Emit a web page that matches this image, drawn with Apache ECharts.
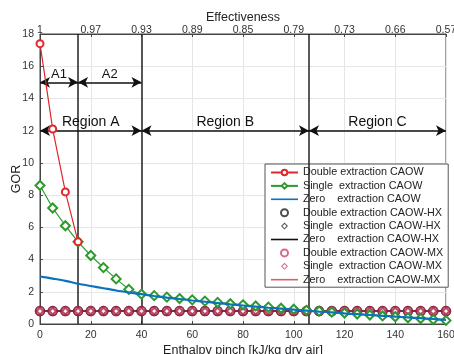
<!DOCTYPE html>
<html><head><meta charset="utf-8">
<script src="https://cdn.jsdelivr.net/npm/echarts@6/dist/echarts.min.js"></script>
<style>html,body{margin:0;padding:0;background:#fff}#c{width:454px;height:354px}</style>
</head><body><div id="c"></div>
<script>
// ---- data ----
const xPinch = [0,5,10,15,20,25,30,35,40,45,50,55,60,65,70,75,80,85,90,95,100,105,110,115,120,125,130,135,140,145,150,155,160];
const xDouble = [0,5,10,15];
const doubleCAOW = [17.4,12.1,8.2,5.1];
const singleCAOW = [8.6,7.2,6.1,5.1,4.25,3.5,2.8,2.15,1.85,1.76,1.67,1.58,1.5,1.42,1.34,1.26,1.19,1.12,1.05,0.98,0.92,0.85,0.8,0.74,0.68,0.62,0.56,0.5,0.45,0.39,0.34,0.28,0.22];
const zeroCAOW = [2.95,2.82,2.68,2.5,2.36,2.22,2.08,1.96,1.85,1.74,1.64,1.55,1.46,1.38,1.3,1.22,1.15,1.08,1.01,0.95,0.89,0.83,0.77,0.72,0.66,0.61,0.56,0.51,0.46,0.41,0.36,0.31,0.26];
const doubleHX = [0.8,0.8,0.8,0.8,0.8,0.8,0.8,0.8,0.8,0.8,0.8,0.8,0.8,0.8,0.8,0.8,0.8,0.8,0.8,0.8,0.8,0.8,0.8,0.8,0.8,0.8,0.8,0.8,0.8,0.8,0.8,0.8,0.8];
const singleHX = [0.8,0.8,0.8,0.8,0.8,0.8,0.8,0.8,0.8,0.8,0.8,0.8,0.8,0.8,0.8,0.8,0.8,0.8,0.8,0.8,0.8,0.8,0.8,0.8,0.8,0.8,0.8,0.8,0.8,0.8,0.8,0.8,0.8];
const zeroHX = [0.8,0.8,0.8,0.8,0.8,0.8,0.8,0.8,0.8,0.8,0.8,0.8,0.8,0.8,0.8,0.8,0.8,0.8,0.8,0.8,0.8,0.8,0.8,0.8,0.8,0.8,0.8,0.8,0.8,0.8,0.8,0.8,0.8];
const doubleMX = [0.8,0.8,0.8,0.8,0.8,0.8,0.8,0.8,0.8,0.8,0.8,0.8,0.8,0.8,0.8,0.8,0.8,0.8,0.8,0.8,0.8,0.8,0.8,0.8,0.8,0.8,0.8,0.8,0.8,0.8,0.8,0.8,0.8];
const singleMX = [0.8,0.8,0.8,0.8,0.8,0.8,0.8,0.8,0.8,0.8,0.8,0.8,0.8,0.8,0.8,0.8,0.8,0.8,0.8,0.8,0.8,0.8,0.8,0.8,0.8,0.8,0.8,0.8,0.8,0.8,0.8,0.8,0.8];
const zeroMX = [0.8,0.8,0.8,0.8,0.8,0.8,0.8,0.8,0.8,0.8,0.8,0.8,0.8,0.8,0.8,0.8,0.8,0.8,0.8,0.8,0.8,0.8,0.8,0.8,0.8,0.8,0.8,0.8,0.8,0.8,0.8,0.8,0.8];
const effTicks = [0,20,40,60,80,100,120,140,160];
const effLabels = ['1','0.97','0.93','0.89','0.85','0.79','0.73','0.66','0.57'];
const boundaries = [15,40,106];
const subRegions = [{name:'A1',from:0,to:15,y:15},{name:'A2',from:15,to:40,y:15}];
const regions = [{name:'Region A',from:0,to:40,y:12},{name:'Region B',from:40,to:106,y:12},{name:'Region C',from:106,to:160,y:12}];
const names = ['Double extraction CAOW','Single  extraction CAOW','Zero    extraction CAOW',
  'Double extraction CAOW-HX','Single  extraction CAOW-HX','Zero    extraction CAOW-HX',
  'Double extraction CAOW-MX','Single  extraction CAOW-MX','Zero    extraction CAOW-MX'];

const pairs = (xs, ys) => xs.map((x,i)=>[x, ys[i]]);
const FONT = 'Liberation Sans, Arial, sans-serif';
const RED = '#e0262b', GREEN = '#2c9a2c', BLUE = '#0a72bf', MXRED = '#a8183f', LEGRED = '#c83a5e';
const LINE_ICON = 'path://M0,0L27,0L27,1.6L0,1.6Z';
const DIAMOND_ICON = 'path://M5,0L10,5L5,10L0,5ZM5,2L2,5L5,8L8,5Z';

const arrowLines = [];
subRegions.forEach(r => arrowLines.push([
  {coord:[r.from, r.y], label:{show:true, formatter:r.name, fontSize:13, distance:1}},
  {coord:[r.to, r.y]}]));
regions.forEach(r => arrowLines.push([
  {coord:[r.from, r.y], label:{show:true, formatter:r.name, fontSize:14, distance:2}},
  {coord:[r.to, r.y]}]));

const legendData = [
  {name:names[0]}, {name:names[1]},
  {name:names[2], icon:LINE_ICON},
  {name:names[3], icon:'emptyCircle'},
  {name:names[4], icon:DIAMOND_ICON, itemStyle:{color:'#222', borderWidth:0}},
  {name:names[5], icon:LINE_ICON},
  {name:names[6], icon:'emptyCircle', itemStyle:{color:LEGRED, borderColor:LEGRED}},
  {name:names[7], icon:DIAMOND_ICON, itemStyle:{color:LEGRED, borderWidth:0}},
  {name:names[8], icon:LINE_ICON, itemStyle:{color:'#d8606e'}}
];

const chart = echarts.init(document.getElementById('c'), null, {renderer:'canvas'});
chart.setOption({
  animation:false,
  textStyle:{fontFamily:FONT},
  grid:{left:40, right:8, top:34, bottom:30, outerBoundsMode:'none', containLabel:false,
    show:true, borderColor:'#444', borderWidth:1, backgroundColor:'transparent'},
  xAxis:[{
    type:'value', min:0, max:160, interval:20, position:'bottom',
    name:'Enthalpy pinch [kJ/kg dry air]', nameLocation:'middle', nameGap:20, nameMoveOverlap:false,
    nameTextStyle:{fontSize:12.5, color:'#222', fontFamily:FONT},
    axisLine:{show:true, lineStyle:{color:'#444'}},
    axisTick:{show:true, inside:true, length:3, lineStyle:{color:'#444'}},
    axisLabel:{fontSize:10.5, color:'#333', margin:6, fontFamily:FONT},
    splitLine:{show:true, lineStyle:{color:'#e6e6e6'}}
  },{
    type:'value', min:0, max:160, interval:20, position:'top',
    name:'Effectiveness', nameLocation:'middle', nameGap:10, nameMoveOverlap:false,
    nameTextStyle:{fontSize:12.5, color:'#222', fontFamily:FONT},
    axisLine:{show:true, lineStyle:{color:'#444'}},
    axisTick:{show:true, inside:true, length:3, lineStyle:{color:'#444'}},
    axisLabel:{fontSize:10.5, color:'#333', margin:-2, fontFamily:FONT,
      formatter:v => effLabels[effTicks.indexOf(v)]},
    splitLine:{show:false}
  }],
  yAxis:{
    type:'value', min:0, max:18, interval:2,
    name:'GOR', nameLocation:'middle', nameGap:17, nameMoveOverlap:false,
    nameTextStyle:{fontSize:12.5, color:'#222', fontFamily:FONT},
    axisLine:{show:true, lineStyle:{color:'#444'}},
    axisTick:{show:true, inside:true, length:3, lineStyle:{color:'#444'}},
    axisLabel:{fontSize:10.5, color:'#333', margin:6, fontFamily:FONT},
    splitLine:{show:true, lineStyle:{color:'#e6e6e6'}}
  },
  legend:{
    data:legendData, orient:'vertical', left:265, top:164,
    backgroundColor:'#fff', borderColor:'#555', borderWidth:1,
    padding:[3,5,2,5], itemWidth:27, itemHeight:7, itemGap:2.4,
    symbolKeepAspect:true,
    textStyle:{fontSize:10.8, color:'#222', fontFamily:FONT, lineHeight:10}
  },
  series:[
    {name:names[5], type:'line', data:pairs(xPinch, zeroHX), symbol:'none', lineStyle:{color:'#111', width:1.5}, itemStyle:{color:'#111'}, z:3},
    {name:names[8], type:'line', data:pairs(xPinch, zeroMX), symbol:'none', lineStyle:{color:MXRED, width:1.5, opacity:0.7}, itemStyle:{color:'#d8606e'}, z:3},
    {name:names[3], type:'scatter', data:pairs(xPinch, doubleHX), symbol:'emptyCircle', symbolSize:8.5, itemStyle:{color:'#222', borderColor:'#222', borderWidth:1.3}, z:4},
    {name:names[4], type:'scatter', data:pairs(xPinch, singleHX), symbol:'emptyDiamond', symbolSize:6, itemStyle:{color:'#222', borderColor:'#222', borderWidth:1}, z:4},
    {name:names[6], type:'scatter', data:pairs(xPinch, doubleMX), symbol:'emptyCircle', symbolSize:8.5, itemStyle:{color:MXRED, borderColor:MXRED, borderWidth:1.3, opacity:0.75}, z:5},
    {name:names[7], type:'scatter', data:pairs(xPinch, singleMX), symbol:'emptyDiamond', symbolSize:6.5, itemStyle:{color:MXRED, borderColor:MXRED, borderWidth:1, opacity:0.75}, z:5},
    {name:names[1], type:'line', data:pairs(xPinch, singleCAOW), symbol:'emptyDiamond', symbolSize:9, lineStyle:{color:GREEN, width:1.2}, itemStyle:{color:GREEN, borderColor:GREEN, borderWidth:1}, z:6},
    {name:names[2], type:'line', data:pairs(xPinch, zeroCAOW), symbol:'none', smooth:0.3, lineStyle:{color:BLUE, width:2.2}, itemStyle:{color:BLUE}, z:7,
      markLine:{
        silent:true, symbol:'none', animation:false,
        lineStyle:{color:'#222', width:1.5, type:'solid'},
        label:{show:false},
        data: boundaries.map(b => ({xAxis:b}))
      }},
    {name:names[0], type:'line', data:pairs(xDouble, doubleCAOW), symbol:'emptyCircle', symbolSize:7, lineStyle:{color:RED, width:1.2}, itemStyle:{color:RED, borderColor:RED, borderWidth:1}, z:8,
      markLine:{
        silent:true, symbol:['arrow','arrow'], symbolSize:[8,10], animation:false,
        lineStyle:{color:'#111', width:1.5, type:'solid'},
        label:{show:true, position:'middle', color:'#111', fontFamily:FONT},
        data: arrowLines
      }}
  ]
});
</script></body></html>
